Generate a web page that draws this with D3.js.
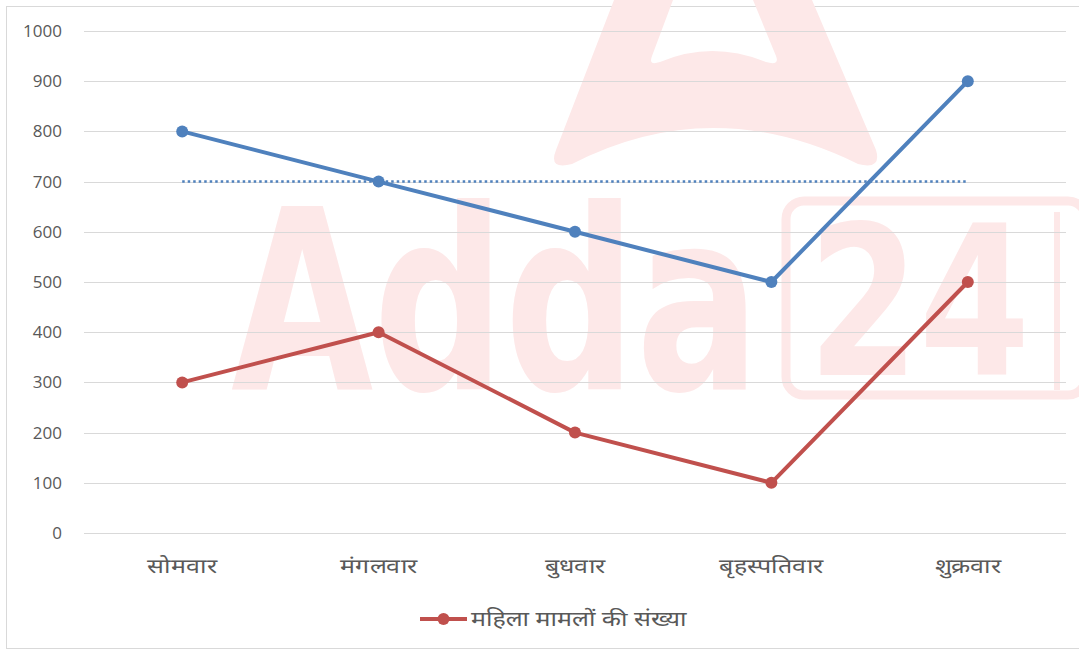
<!DOCTYPE html>
<html>
<head>
<meta charset="utf-8">
<script src="https://cdn.jsdelivr.net/npm/d3@7"></script>
<style>
  body { margin: 0; background: #fff; }
  svg { display: block; font-family: "Noto Sans", "Open Sans", sans-serif; }
</style>
</head>
<body>
<svg width="1079" height="651"></svg>
<script>
const days = ["सोमवार", "मंगलवार", "बुधवार", "बृहस्पतिवार", "शुक्रवार"];
const totalCases = [800, 700, 600, 500, 900];
const womenCases = [300, 400, 200, 100, 500];
const refLine = [700, 700, 700, 700, 700];
const yTicks = [0, 100, 200, 300, 400, 500, 600, 700, 800, 900, 1000];
const legendLabel = "महिला मामलों की संख्या";

const BLUE = "#4f81bd", RED = "#c0504d", PINK = "#fde8e8";

const svg = d3.select("svg");
const margin = { top: 31, left: 84, right: 13, bottom: 118 };
const width = 1079 - margin.left - margin.right,
  height = 651 - margin.top - margin.bottom;

// chart border
svg.append("rect")
  .attr("x", 6.5).attr("y", 6.5)
  .attr("width", 1090).attr("height", 642)
  .attr("fill", "#fff").attr("stroke", "#d9d9d9");

// watermark, squeezed to fit its box
function fitText(sel, x0, x1) {
  const w = sel.node().getComputedTextLength();
  const sx = (x1 - x0) / w;
  sel.attr("transform", `translate(${x0},${sel.attr("data-y")}) scale(${sx},1)`);
}
const wm = svg.append("g").attr("fill", PINK);
wm.append("path")
  .attr("fill-rule", "evenodd")
  .attr("d", "M556,150 L614,0 L812,0 L876,150 Q882,170 858,164 Q712,92 572,164 Q548,170 556,150 Z " +
             "M673,0 L753,0 L776,56 Q780,66 766,62 Q712,40 660,62 Q648,66 652,56 Z");
const wmAdda = wm.append("text")
  .attr("data-y", 389)
  .attr("font-family", "DejaVu Sans Condensed").attr("font-weight", "bold")
  .attr("font-size", 252)
  .text("Adda");
fitText(wmAdda, 231, 760);
wm.append("rect")
  .attr("x", 786).attr("y", 201).attr("width", 300).attr("height", 194).attr("rx", 18)
  .attr("fill", "none").attr("stroke", PINK).attr("stroke-width", 9);
wm.append("line")
  .attr("x1", 1057).attr("x2", 1057).attr("y1", 212).attr("y2", 390)
  .attr("stroke", PINK).attr("stroke-width", 6);
const wm24 = wm.append("text")
  .attr("data-y", 375)
  .attr("font-family", "DejaVu Sans Condensed").attr("font-weight", "bold")
  .attr("font-size", 208)
  .text("24");
fitText(wm24, 808, 1030);

const g = svg.append("g").attr("transform", `translate(${margin.left},${margin.top})`);

const x = d3.scaleBand().domain(days).range([0, width]);
const y = d3.scaleLinear().domain([0, 1000]).range([height, 0]);
const cx = (d) => x(d) + x.bandwidth() / 2;

// gridlines
g.append("g")
  .selectAll("line")
  .data(yTicks)
  .join("line")
  .attr("x1", 0).attr("x2", width)
  .attr("y1", (d) => Math.round(y(d)) + 0.5).attr("y2", (d) => Math.round(y(d)) + 0.5)
  .attr("stroke", "#d9d9d9").attr("stroke-width", 1);

// y axis labels
const yAxis = g.append("g")
  .call(d3.axisLeft(y).tickValues(yTicks).tickFormat(d3.format("d")).tickSize(0).tickPadding(22));
yAxis.select(".domain").remove();
yAxis.selectAll("text")
  .attr("fill", "#595959").attr("font-size", 17)
  .attr("font-family", "Open Sans, sans-serif");

// x axis labels (Devanagari set wide, like Mangal)
const xAxis = g.append("g")
  .attr("transform", `translate(0,${height})`)
  .call(d3.axisBottom(x).tickSize(0).tickPadding(26));
xAxis.select(".domain").remove();
xAxis.selectAll("text")
  .attr("fill", "#595959").attr("font-size", 20)
  .attr("transform", "scale(1.25,1)")
  .attr("y", 26);

// dotted reference line
const line = d3.line().x((d, i) => cx(days[i])).y((d) => y(d));
g.append("path")
  .datum(refLine)
  .attr("d", line)
  .attr("fill", "none").attr("stroke", BLUE)
  .attr("stroke-width", 2.5).attr("stroke-dasharray", "2.5,3");

const series = [
  { values: totalCases, color: BLUE },
  { values: womenCases, color: RED }
];

series.forEach((s) => {
  g.append("path")
    .datum(s.values)
    .attr("d", line)
    .attr("fill", "none").attr("stroke", s.color)
    .attr("stroke-width", 4).attr("stroke-linejoin", "round");
  g.append("g")
    .selectAll("circle")
    .data(s.values)
    .join("circle")
    .attr("cx", (d, i) => cx(days[i]))
    .attr("cy", (d) => y(d))
    .attr("r", 6)
    .attr("fill", s.color);
});

// legend
const lg = svg.append("g").attr("transform", "translate(420,619)");
lg.append("line")
  .attr("x1", 0).attr("x2", 47)
  .attr("stroke", RED).attr("stroke-width", 4);
lg.append("circle").attr("cx", 23.5).attr("r", 6).attr("fill", RED);
lg.append("text")
  .attr("transform", "translate(51,0) scale(1.25,1)")
  .attr("dy", "0.35em")
  .attr("fill", "#595959").attr("font-size", 20)
  .text(legendLabel);
</script>
</body>
</html>
